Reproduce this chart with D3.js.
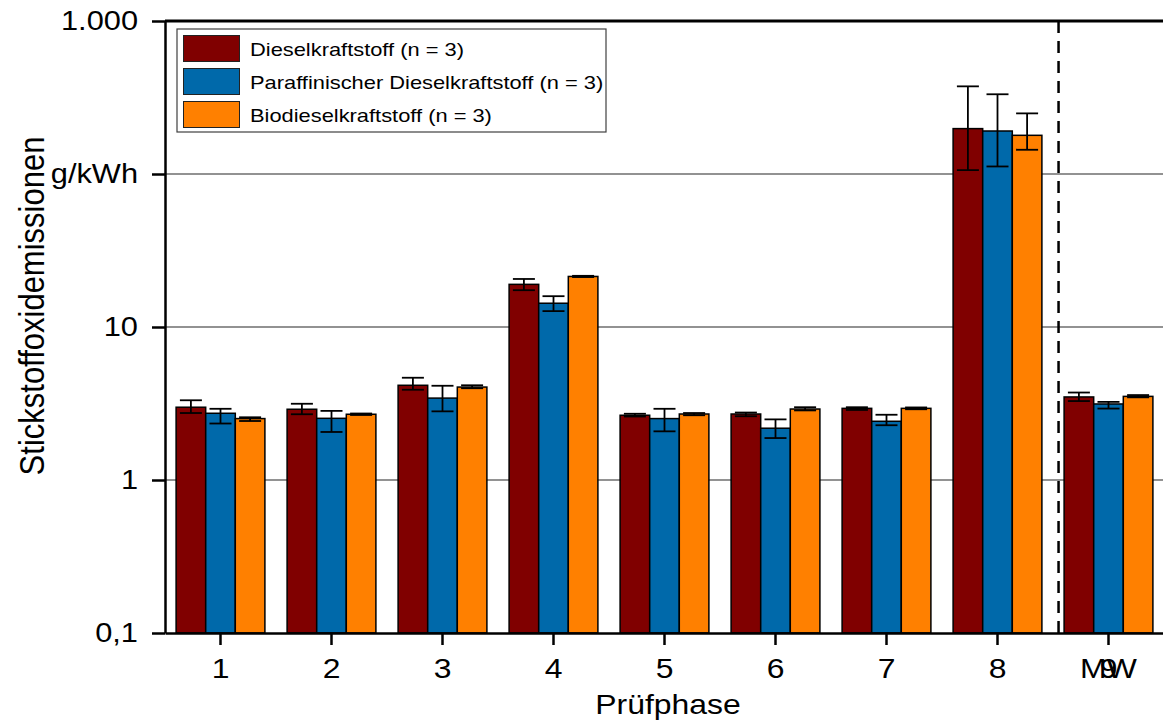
<!DOCTYPE html>
<html>
<head>
<meta charset="utf-8">
<script src="https://cdn.jsdelivr.net/npm/d3@7"></script>
<style>
  html, body { margin: 0; padding: 0; background: #fff; }
  svg { display: block; font-family: "Liberation Sans", Arial, sans-serif; }
</style>
</head>
<body>
<svg id="chart" width="1163" height="722"></svg>
<script>
// ---- data ----
const categories = ["1", "2", "3", "4", "5", "6", "7", "8", "9"];
const extraLabel = "MW"; // overlaps label "9" in the reference
const seriesNames = ["Dieselkraftstoff (n = 3)", "Paraffinischer Dieselkraftstoff (n = 3)", "Biodieselkraftstoff (n = 3)"];
const seriesColors = ["#800000", "#0069AA", "#FF8000"];

const dieselVals   = [2.99, 2.90, 4.16, 19.0, 2.65, 2.70, 2.94, 198, 3.49];
const dieselLow    = [2.74, 2.69, 3.89, 17.4, 2.60, 2.61, 2.87, 106, 3.28];
const dieselHigh   = [3.32, 3.15, 4.66, 20.6, 2.71, 2.76, 2.99, 374, 3.73];

const paraVals     = [2.73, 2.53, 3.43, 14.3, 2.52, 2.18, 2.42, 191, 3.14];
const paraLow      = [2.34, 2.06, 2.81, 12.7, 2.08, 1.88, 2.28, 112, 2.93];
const paraHigh     = [2.92, 2.83, 4.13, 15.9, 2.92, 2.49, 2.67, 332, 3.24];

const bioVals      = [2.52, 2.69, 4.05, 21.4, 2.70, 2.91, 2.94, 179, 3.52];
const bioLow       = [2.43, 2.66, 3.98, 21.2, 2.65, 2.85, 2.90, 144, 3.47];
const bioHigh      = [2.57, 2.72, 4.16, 21.6, 2.74, 2.99, 2.98, 249, 3.59];

const yTickValues = [0.1, 1, 10, 100, 1000];
const yTickLabels = ["0,1", "1", "10", "g/kWh", "1.000"];
const yTitle = "Stickstoffoxidemissionen";
const xTitle = "Prüfphase";

// ---- build ----
const series = [
  { name: seriesNames[0], color: seriesColors[0], vals: dieselVals, lo: dieselLow, hi: dieselHigh },
  { name: seriesNames[1], color: seriesColors[1], vals: paraVals, lo: paraLow, hi: paraHigh },
  { name: seriesNames[2], color: seriesColors[2], vals: bioVals, lo: bioLow, hi: bioHigh }
];

const FONT = "Liberation Sans, Arial, sans-serif";
const SX = 1.14; // horizontal stretch of glyphs seen in the reference
function stretch(sel, s) {
  sel.each(function () {
    const L = this.getComputedTextLength();
    this.setAttribute("textLength", L * s);
    this.setAttribute("lengthAdjust", "spacingAndGlyphs");
  });
}

const svg = d3.select("#chart");
const mLeft = 165, mRight = 1164, mTop = 21, mBottom = 633;

const x = d3.scaleBand().domain(categories).range([mLeft, mRight]).paddingInner(0.2).paddingOuter(0.1);
const xs = d3.scaleBand().domain(d3.range(series.length)).range([0, x.bandwidth()]);
const y = d3.scaleLog().domain([0.1, 1000]).range([mBottom, mTop]);

// gridlines
svg.append("g").selectAll("line")
  .data(yTickValues.filter(v => v > 0.1 && v < 1000))
  .join("line")
  .attr("x1", mLeft).attr("x2", mRight)
  .attr("y1", d => y(d)).attr("y2", d => y(d))
  .attr("stroke", "#6e6e6e").attr("stroke-width", 1.5);

// bars
const groups = svg.append("g").selectAll("g")
  .data(series).join("g");

groups.selectAll("rect")
  .data((s, si) => categories.map((c, i) => ({ c, v: s.vals[i], si, color: s.color })))
  .join("rect")
  .attr("x", d => x(d.c) + xs(d.si))
  .attr("width", xs.bandwidth())
  .attr("y", d => y(d.v))
  .attr("height", d => mBottom - y(d.v))
  .attr("fill", d => d.color)
  .attr("stroke", "#000").attr("stroke-width", 1.5);

// error bars
const capW = 22;
const eb = svg.append("g").attr("stroke", "#000").attr("stroke-width", 1.8);
series.forEach((s, si) => {
  categories.forEach((c, i) => {
    const cx = x(c) + xs(si) + xs.bandwidth() / 2;
    eb.append("line").attr("x1", cx).attr("x2", cx).attr("y1", y(s.lo[i])).attr("y2", y(s.hi[i]));
    eb.append("line").attr("x1", cx - capW / 2).attr("x2", cx + capW / 2).attr("y1", y(s.hi[i])).attr("y2", y(s.hi[i]));
    eb.append("line").attr("x1", cx - capW / 2).attr("x2", cx + capW / 2).attr("y1", y(s.lo[i])).attr("y2", y(s.lo[i]));
  });
});

// dashed separator before last group
const sepX = x(categories[categories.length - 1]) - x.step() * 0.05;
svg.append("line")
  .attr("x1", sepX).attr("x2", sepX).attr("y1", mTop).attr("y2", mBottom)
  .attr("stroke", "#000").attr("stroke-width", 2.5).attr("stroke-dasharray", "12,8");

// top frame line
svg.append("line").attr("x1", mLeft).attr("x2", mRight + 10).attr("y1", mTop).attr("y2", mTop)
  .attr("stroke", "#000").attr("stroke-width", 3);

// y axis
const yAxis = d3.axisLeft(y).tickValues(yTickValues)
  .tickFormat((d, i) => yTickLabels[i]).tickSize(13).tickPadding(14).tickSizeOuter(0);
const gy = svg.append("g").attr("transform", `translate(${mLeft},0)`).call(yAxis);
gy.select(".domain").attr("stroke-width", 2.5);
gy.selectAll(".tick line").attr("stroke-width", 2.5);
gy.selectAll(".tick text").attr("font-size", 27).attr("font-family", FONT).attr("fill", "#000").call(stretch, SX);

// x axis
const xAxis = d3.axisBottom(x).tickSize(12).tickPadding(13).tickSizeOuter(0);
const gx = svg.append("g").attr("transform", `translate(0,${mBottom})`).call(xAxis);
gx.select(".domain").attr("stroke-width", 2.5);
gx.selectAll(".tick line").attr("stroke-width", 2.5);
gx.selectAll(".tick text").attr("font-size", 28).attr("font-family", FONT).attr("fill", "#000").call(stretch, SX);
// overlapping "MW" label on last tick
gx.append("text")
  .attr("x", x(categories[categories.length - 1]) + x.bandwidth() / 2)
  .attr("y", 25).attr("dy", "0.71em")
  .attr("text-anchor", "middle").attr("font-size", 28).attr("fill", "#000")
  .attr("font-family", FONT)
  .text(extraLabel).call(stretch, SX);

// axis titles
svg.append("text")
  .attr("transform", `translate(44,306) scale(${SX},1) rotate(-90)`)
  .attr("text-anchor", "middle").attr("font-size", 31).attr("fill", "#000")
  .attr("font-family", FONT)
  .text(yTitle);
svg.append("text")
  .attr("x", 668).attr("y", 714)
  .attr("text-anchor", "middle").attr("font-size", 28).attr("fill", "#000")
  .attr("font-family", FONT)
  .text(xTitle).call(stretch, SX);

// legend
const lg = svg.append("g").attr("transform", "translate(177,29)");
lg.append("rect").attr("x", 0).attr("y", 0).attr("width", 429).attr("height", 103)
  .attr("fill", "#fff").attr("stroke", "#404040").attr("stroke-width", 1.2);
series.forEach((s, i) => {
  lg.append("rect").attr("x", 6.5).attr("y", 6.5 + i * 33).attr("width", 56).attr("height", 26)
    .attr("fill", s.color).attr("stroke", "#222").attr("stroke-width", 1);
  lg.append("text").attr("x", 73).attr("y", 20 + i * 33).attr("dy", "0.35em")
    .attr("font-size", 19).attr("font-family", FONT).attr("fill", "#000").text(s.name).call(stretch, 1.15);
});
</script>
</body>
</html>
